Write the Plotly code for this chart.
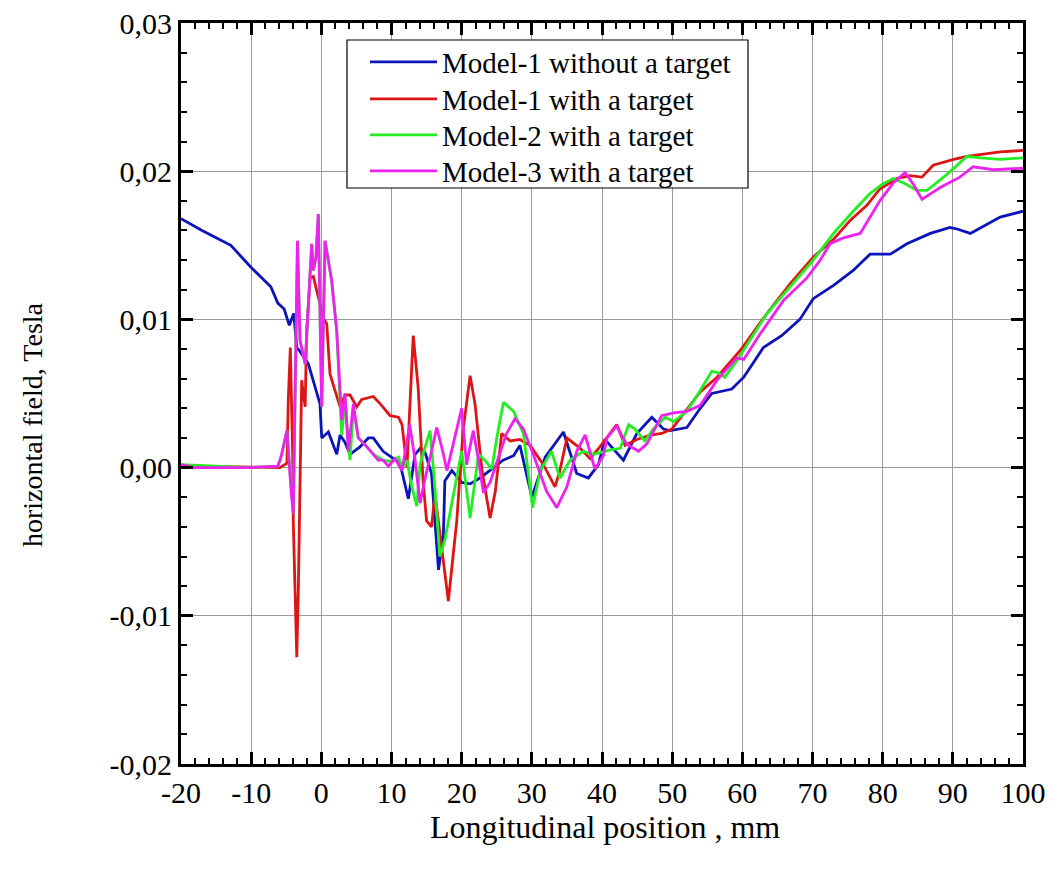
import plotly.graph_objects as go

# ---------------- data ----------------
blue_x = [-20, -17, -12.9, -10, -7.2, -6.2, -5.3, -4.56, -3.94, -3.5, -3.14, -1.85, -0.19, 0.06, 1.0, 1.48, 2.2, 2.67,
          3.38, 4.09, 5.5, 6.7, 7.4, 8.8, 10.0, 11.2, 12.4, 13.36, 14.1, 14.8, 15.7, 16.7, 17.4, 17.6, 18.6, 20.0,
          21.2, 22.6, 24.0, 25.9, 27.4, 28.3, 30.0, 31.9, 34.5, 35.45, 36.4, 38.06, 39.5, 40.4, 43.05, 44.96, 47.1,
          48.75, 49.7, 52.1, 54.0, 55.65, 58.5, 60.2, 63.0, 65.6, 68.2, 70.1, 73.0, 75.8, 78.2, 79.9, 81.1, 83.45,
          86.8, 89.6, 90.6, 92.5, 94.4, 96.75, 100]
blue_y = [0.0168, 0.0160, 0.0150, 0.0135, 0.0122, 0.0111, 0.0107, 0.0096, 0.0104, 0.0081, 0.0079, 0.0070, 0.0043,
          0.0020, 0.0024, 0.0018, 0.0009, 0.0022, 0.0017, 0.0009, 0.0014, 0.0020, 0.0020, 0.0011, 0.0007, 0.0003,
          -0.0021, 0.0009, 0.0013, 0.0010, -0.0004, -0.0069, -0.0045, -0.0009, -0.0002, -0.0010, -0.0011, -0.0007,
          -0.0002, 0.0005, 0.0008, 0.0015, -0.0020, 0.0007, 0.0024, 0.0010, -0.0004, -0.0007, 0.0002, 0.0019,
          0.0005, 0.0023, 0.0034, 0.0026, 0.0025, 0.0027, 0.0040, 0.0050, 0.0053, 0.0061, 0.0081, 0.0089, 0.0100,
          0.0114, 0.0123, 0.0133, 0.0144, 0.0144, 0.0144, 0.0151, 0.0158, 0.0162, 0.0161, 0.0158, 0.0163, 0.0169,
          0.0173]

red_x = [-20, -10, -5.9, -4.9, -4.7, -4.42, -4.08, -3.99, -3.5, -3.28, -3.04, -2.8, -2.57, -2.3, -2.1, -1.6, -1.14,
         -0.66, 0.29, 0.77, 1.24, 1.95, 2.67, 3.38, 4.09, 5.05, 5.76, 7.4, 8.4, 9.8, 11.0, 11.5, 12.2, 13.1, 13.8,
         14.5, 15.0, 15.7, 16.2, 18.1, 19.3, 20.2, 21.2, 21.9, 22.9, 24.05, 24.8, 25.7, 26.9, 28.3, 29.75, 31.65,
         33.3, 34.0, 35.0, 36.9, 38.3, 39.7, 40.7, 42.1, 43.3, 44.96, 46.9, 48.5, 49.95, 51.6, 54.0, 56.4, 59.7,
         63.5, 66.8, 70.1, 73.0, 75.4, 77.75, 79.6, 82.0, 83.9, 85.6, 87.2, 90.1, 92.0, 96.75, 100]
red_y = [0.0001, 0.0, 0.0, 0.0003, 0.0047, 0.0081, 0.0007, -0.0038, -0.0128, -0.0083, -0.0004, 0.0059, 0.0050,
         0.0041, 0.0092, 0.0128, 0.0129, 0.0119, 0.0101, 0.0097, 0.0063, 0.0052, 0.0041, 0.0049, 0.0049, 0.0041,
         0.0046, 0.0048, 0.0043, 0.0035, 0.0034, 0.0029, 0.0000, 0.0089, 0.0054, -0.0009, -0.0036, -0.0040,
         -0.0018, -0.0090, -0.0036, 0.0025, 0.0062, 0.0043, -0.0002, -0.0034, -0.0016, 0.0023, 0.0018, 0.0019,
         0.0015, 0.0002, -0.0013, -0.0002, 0.0020, 0.0013, 0.0006, 0.0014, 0.0020, 0.0029, 0.0015, 0.0019, 0.0022,
         0.0023, 0.0026, 0.0036, 0.0051, 0.0061, 0.0079, 0.0104, 0.0124, 0.0142, 0.0154, 0.0167, 0.0177, 0.0188,
         0.0195, 0.0197, 0.0196, 0.0204, 0.0208, 0.0210, 0.0213, 0.0214]

green_x = [-20, -10, -6.2, -5.75, -4.9, -4.3, -4.0, -3.4, -3.04, -2.3, -1.37, -1.14, -0.76, -0.43, -0.19, 0.05, 0.53,
           1.48, 2.2, 2.9, 3.38, 4.09, 4.56, 5.27, 6.5, 7.4, 8.8, 10.0, 11.0, 11.5, 12.2, 12.9, 13.6, 14.07, 14.8,
           15.5, 16.0, 16.9, 17.6, 18.8, 20.0, 21.2, 22.4, 23.3, 24.3, 25.0, 25.95, 27.4, 28.8, 30.1, 31.2, 32.8,
           34.0, 35.45, 37.35, 38.8, 40.2, 41.2, 42.6, 43.8, 44.7, 46.1, 47.3, 49.0, 50.2, 52.1, 54.0, 55.65, 56.6,
           57.5, 59.2, 61.1, 63.5, 66.8, 70.1, 73.0, 75.8, 78.2, 79.9, 81.5, 83.0, 84.9, 86.3, 89.2, 92.0, 93.9,
           96.75, 100]
green_y = [0.0002, 0.0, 0.0001, 0.0007, 0.0025, -0.0016, -0.0031, 0.0153, 0.0086, 0.0070, 0.0151, 0.0133, 0.0142,
           0.0171, 0.0097, 0.0041, 0.0153, 0.0126, 0.0092, 0.0022, 0.0045, 0.0005, 0.0040, 0.0020, 0.0014, 0.0009,
           0.0005, 0.0004, 0.0007, 0.0000, 0.0005, -0.0013, -0.0026, 0.0002, 0.0014, 0.0025, -0.0002, -0.0060,
           -0.0049, -0.0020, 0.0011, -0.0034, 0.0009, 0.0005, -0.0001, 0.0020, 0.0044, 0.0038, 0.0023, -0.0027,
           -0.0002, 0.0011, -0.0007, 0.0005, 0.0011, 0.0009, 0.0011, 0.0012, 0.0013, 0.0029, 0.0026, 0.0018,
           0.0026, 0.0034, 0.0031, 0.0038, 0.0052, 0.0065, 0.0064, 0.0061, 0.0072, 0.0086, 0.0104, 0.0122, 0.0140,
           0.0158, 0.0173, 0.0185, 0.0191, 0.0195, 0.0192, 0.0187, 0.0187, 0.0198, 0.0210, 0.0209, 0.0208, 0.0209]

magenta_x = [-20, -18.1, -10, -6.2, -5.75, -4.9, -4.3, -4.0, -3.4, -3.04, -2.3, -1.37, -1.14, -0.76, -0.43, -0.19,
             0.05, 0.53, 1.48, 2.2, 2.9, 3.38, 3.85, 4.56, 5.27, 6.5, 7.4, 8.1, 8.8, 9.55, 10.5, 11.5, 12.6, 13.36,
             14.07, 14.8, 15.7, 16.45, 17.4, 17.9, 18.8, 20.0, 20.7, 21.65, 22.4, 23.1, 24.05, 25.5, 26.4, 27.6,
             28.8, 30.2, 32.1, 33.55, 35.0, 36.4, 37.6, 39.0, 40.2, 40.7, 42.1, 43.5, 45.2, 46.4, 48.5, 50.2, 52.1,
             54.0, 56.4, 59.2, 60.2, 62.5, 65.9, 69.2, 71.1, 72.5, 74.4, 76.8, 79.6, 81.5, 83.2, 84.4, 85.6, 88.2,
             91.0, 92.9, 95.8, 100]
magenta_y = [0.0002, 0.0, 0.0, 0.0001, 0.0007, 0.0025, -0.0016, -0.0031, 0.0153, 0.0086, 0.0070, 0.0151, 0.0133,
             0.0142, 0.0171, 0.0097, 0.0041, 0.0153, 0.0126, 0.0092, 0.0032, 0.0050, 0.0011, 0.0043, 0.0020, 0.0014,
             0.0009, 0.0005, 0.0005, 0.0001, 0.0006, -0.0002, 0.0029, 0.0005, -0.0024, -0.0007, 0.0011, 0.0027,
             0.0009, -0.0002, 0.0016, 0.0040, 0.0002, 0.0025, 0.0005, -0.0017, -0.0010, 0.0011, 0.0023, 0.0033,
             0.0026, 0.0009, -0.0016, -0.0027, -0.0013, 0.0011, 0.0022, -0.0001, 0.0008, 0.0020, 0.0028, 0.0016,
             0.0011, 0.0016, 0.0035, 0.0037, 0.0038, 0.0042, 0.0059, 0.0074, 0.0073, 0.0090, 0.0113, 0.0128, 0.0140,
             0.0151, 0.0155, 0.0158, 0.0180, 0.0192, 0.0199, 0.0191, 0.0181, 0.0189, 0.0196, 0.0203, 0.0201, 0.0202]

names = ["Model-1 without a target", "Model-1 with a target", "Model-2 with a target", "Model-3 with a target"]
colors = ["#0a14b8", "#dd1515", "#22ee22", "#ee22ee"]

x_ticks = [-20, -10, 0, 10, 20, 30, 40, 50, 60, 70, 80, 90, 100]
y_tickvals = [-0.02, -0.01, 0.0, 0.01, 0.02, 0.03]
y_ticktext = ["-0,02", "-0,01", "0,00", "0,01", "0,02", "0,03"]
x_title = "Longitudinal position , mm"
y_title = "horizontal field, Tesla"

# ---------------- figure ----------------
FONT = "Liberation Serif, Times New Roman, serif"
W, H = 1059, 869
ML, MR, MT, MB = 181, 36, 23, 105
PW, PH = W - ML - MR, H - MT - MB


def px_to_paper_x(px):
    return (px - ML) / PW


def px_to_paper_y(py):
    return 1 - (py - MT) / PH


legend_ids = ["legend", "legend2", "legend3", "legend4"]
legend_rows_px = [62, 99, 135, 171]

fig = go.Figure()
for xs, ys, nm, c, lg in zip([blue_x, red_x, green_x, magenta_x], [blue_y, red_y, green_y, magenta_y],
                             names, colors, legend_ids):
    fig.add_trace(go.Scatter(x=xs, y=ys, mode="lines", name=nm, line=dict(color=c, width=2.8), legend=lg))

axis_common = dict(
    showline=True, linecolor="black", linewidth=3, mirror="ticks",
    ticks="inside", ticklen=12, tickwidth=3, tickcolor="black",
    showgrid=True, gridcolor="#9a9a9a", gridwidth=1, zeroline=False, automargin=False,
    tickfont=dict(family=FONT, size=30, color="black"),
)

fig.update_xaxes(range=[-20, 100], tickvals=x_ticks, ticktext=[str(v) for v in x_ticks],
                 minor=dict(dtick=2, ticklen=6, tickwidth=2, tickcolor="black", ticks="inside", showgrid=False),
                 **axis_common)
fig.update_yaxes(range=[-0.02, 0.03], tickvals=y_tickvals, ticktext=y_ticktext,
                 minor=dict(dtick=0.002, tick0=0, ticklen=6, tickwidth=2, tickcolor="black", ticks="inside",
                            showgrid=False),
                 **axis_common)

# axis titles as annotations for precise placement
fig.add_annotation(text=x_title, xref="paper", yref="paper", x=px_to_paper_x(605), y=px_to_paper_y(827),
                   xanchor="center", yanchor="middle", showarrow=False,
                   font=dict(family=FONT, size=32, color="black"))
fig.add_annotation(text=y_title, xref="paper", yref="paper", x=px_to_paper_x(32), y=px_to_paper_y(425),
                   xanchor="center", yanchor="middle", showarrow=False, textangle=-90,
                   font=dict(family=FONT, size=28, color="black"))

# legend frame
fig.add_shape(type="rect", xref="paper", yref="paper",
              x0=px_to_paper_x(347), x1=px_to_paper_x(748), y0=px_to_paper_y(188), y1=px_to_paper_y(40),
              line=dict(color="black", width=1.2), fillcolor="white", layer="above")

legend_style = dict(xanchor="left", yanchor="middle", bgcolor="rgba(0,0,0,0)", borderwidth=0,
                    font=dict(family=FONT, size=29, color="black"), itemwidth=67)
layout_legends = {}
for lg, ry in zip(legend_ids, legend_rows_px):
    layout_legends[lg] = dict(x=px_to_paper_x(365), y=px_to_paper_y(ry), **legend_style)

fig.update_layout(
    width=W, height=H,
    margin=dict(l=ML, r=MR, t=MT, b=MB, autoexpand=False),
    paper_bgcolor="white", plot_bgcolor="white",
    showlegend=True,
    **layout_legends,
)

fig.write_html("out.html")
